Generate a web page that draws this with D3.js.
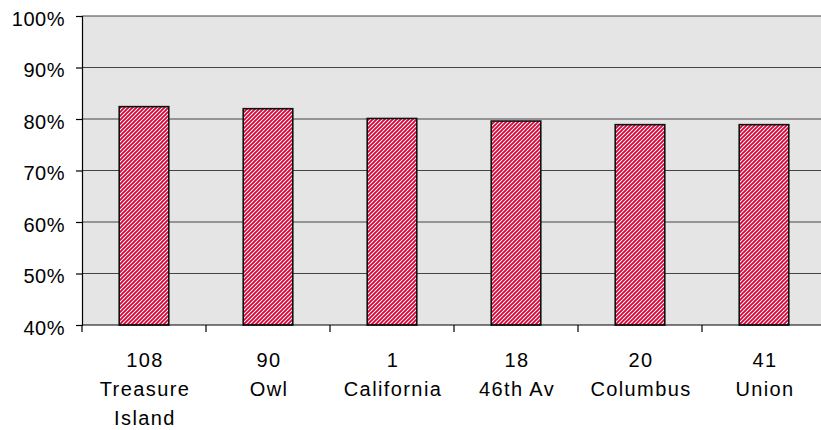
<html>
<head>
<meta charset="utf-8">
<style>
  body { margin: 0; background: #fff; }
  text { font-family: "Liberation Sans", Arial, sans-serif; fill: #000; }
  .x-axis text { font-size: 20px; letter-spacing: 1.4px; }
  .y-axis text { font-size: 20px; letter-spacing: 0.5px; }
</style>
</head>
<body>
<svg class="chart" width="821" height="430"></svg>

<script src="https://d3js.org/d3.v7.min.js"></script>
<script>
  var routes = ['108', '90', '1', '18', '20', '41'];
  var routeNames = [['Treasure', 'Island'], ['Owl'], ['California'], ['46th Av'], ['Columbus'], ['Union']];
  var onTime = [0.824, 0.820, 0.801, 0.796, 0.789, 0.789];
  var yTicks = [0.4, 0.5, 0.6, 0.7, 0.8, 0.9, 1.0];

  var plotLeft = 82, plotRight = 826, plotTop = 16, plotBottom = 325;

  var svg = d3.select(".chart");

  // hatch fill for the bars
  var pat = svg.append("defs").append("pattern")
    .attr("id", "hatch")
    .attr("patternUnits", "userSpaceOnUse")
    .attr("width", 4)
    .attr("height", 4);
  pat.append("rect").attr("width", 4).attr("height", 4).attr("fill", "#fff");
  pat.append("path")
    .attr("d", "M-1,1 l2,-2 M0,4 l4,-4 M3,5 l2,-2")
    .attr("stroke", "#d6063a")
    .attr("stroke-width", 1.9);

  var x = d3.scaleBand()
    .domain(routes)
    .range([plotLeft, plotRight])
    .paddingInner(0.6)
    .paddingOuter(0.3);

  var y = d3.scaleLinear()
    .domain([0.4, 1.0])
    .range([plotBottom, plotTop]);

  // plot background
  svg.append("rect")
    .attr("x", plotLeft).attr("y", plotTop)
    .attr("width", plotRight - plotLeft).attr("height", plotBottom - plotTop)
    .attr("fill", "#e5e5e5");

  // grid lines
  svg.append("g").selectAll("line")
    .data(yTicks.slice(1))
    .enter().append("line")
      .attr("x1", plotLeft).attr("x2", plotRight)
      .attr("y1", function(d) { return y(d); })
      .attr("y2", function(d) { return y(d); })
      .attr("stroke", "#444")
      .attr("stroke-width", 1.2);

  // bars
  svg.append("g").selectAll("rect")
    .data(onTime)
    .enter().append("rect")
      .attr("x", function(d, i) { return x(routes[i]); })
      .attr("y", function(d) { return y(d); })
      .attr("width", x.bandwidth())
      .attr("height", function(d) { return plotBottom - y(d); })
      .attr("fill", "url(#hatch)")
      .attr("stroke", "#111")
      .attr("stroke-width", 1.6);

  // y axis
  var yAxis = d3.axisLeft(y)
    .tickValues(yTicks)
    .tickFormat(d3.format(".0%"))
    .tickSize(6)
    .tickPadding(11);

  var gy = svg.append("g")
    .attr("class", "y-axis")
    .attr("transform", "translate(" + plotLeft + ",0)")
    .call(yAxis);
  gy.select(".domain").attr("stroke", "#000").attr("stroke-width", 1.2);
  gy.selectAll(".tick line").attr("stroke", "#000").attr("stroke-width", 1.2);
  gy.selectAll(".tick text").attr("dy", "0.45em");

  // x axis: ticks between categories
  var step = x.step();
  var gx = svg.append("g").attr("class", "x-axis");
  gx.append("line")
    .attr("x1", plotLeft).attr("x2", plotRight)
    .attr("y1", plotBottom).attr("y2", plotBottom)
    .attr("stroke", "#000").attr("stroke-width", 1.2);
  gx.selectAll(".sep")
    .data(d3.range(routes.length + 1))
    .enter().append("line")
      .attr("class", "sep")
      .attr("x1", function(i) { return plotLeft + i * step; })
      .attr("x2", function(i) { return plotLeft + i * step; })
      .attr("y1", plotBottom).attr("y2", plotBottom + 7)
      .attr("stroke", "#000").attr("stroke-width", 1.2);

  var labels = gx.selectAll(".lbl")
    .data(routes)
    .enter().append("text")
      .attr("class", "lbl")
      .attr("text-anchor", "middle")
      .attr("transform", function(d) { return "translate(" + (x(d) + x.bandwidth() / 2 + 1) + ",0)"; });

  labels.each(function(d, i) {
    var t = d3.select(this);
    var lines = [d].concat(routeNames[i]);
    lines.forEach(function(s, k) {
      t.append("tspan")
        .attr("x", 0)
        .attr("y", 367 + k * 29)
        .text(s);
    });
  });
</script>
</body>
</html>
